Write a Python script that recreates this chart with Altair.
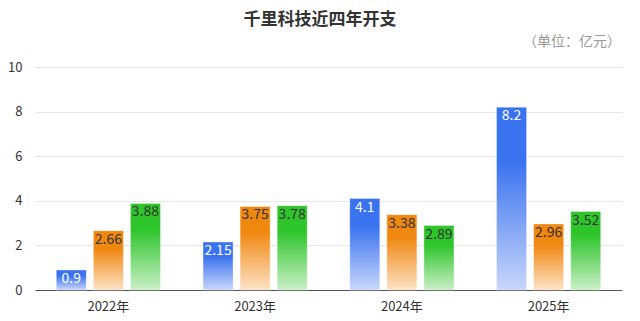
import altair as alt
import pandas as pd

years = ["2022年", "2023年", "2024年", "2025年"]
series = ["系列1", "系列2", "系列3"]
s1 = [0.9, 2.15, 4.1, 8.2]
s2 = [2.66, 3.75, 3.38, 2.96]
s3 = [3.88, 3.78, 2.89, 3.52]

top_colors = ["#3a73ef", "#f0870f", "#2ec52b"]
bottom_colors = ["#c9d7fb", "#fde3c6", "#caf0c7"]
label_colors = ["#ffffff", "#333333", "#333333"]

rows = []
for vals, s in zip([s1, s2, s3], series):
    for y, v in zip(years, vals):
        rows.append({"year": y, "series": s, "value": v})
df = pd.DataFrame(rows)

FONT = "Noto Sans CJK SC"

x_enc = alt.X("year:N", sort=years, title=None,
              scale=alt.Scale(paddingInner=0.29, paddingOuter=0.145),
              axis=alt.Axis(labelAngle=0, labelFontSize=13, labelColor="#333333",
                            labelPadding=10, ticks=False, domainColor="#555555",
                            labelFont=FONT))
xoff = alt.XOffset("series:N", sort=series,
                   scale=alt.Scale(paddingInner=0.19, paddingOuter=0))
y_enc = alt.Y("value:Q", title=None,
              scale=alt.Scale(domain=[0, 10], nice=False),
              axis=alt.Axis(values=[0, 2, 4, 6, 8, 10], domain=False, ticks=False,
                            gridColor="#e6e6e6", labelFontSize=13, labelColor="#333333",
                            labelPadding=13, labelFont=FONT))

base = alt.Chart(df)
layers = []
for s, tc, bc in zip(series, top_colors, bottom_colors):
    grad = alt.Gradient(gradient="linear", x1=0, y1=0, x2=0, y2=1,
                        stops=[alt.GradientStop(color=tc, offset=0),
                               alt.GradientStop(color=tc, offset=0.3),
                               alt.GradientStop(color=bc, offset=1)])
    layers.append(
        base.transform_filter(alt.datum.series == s)
        .mark_bar(color=grad, stroke="#ffffff", strokeOpacity=0.35, strokeWidth=1)
        .encode(x=x_enc, xOffset=xoff, y=y_enc)
    )

labels = base.mark_text(baseline="top", dy=2, fontSize=14, font=FONT).encode(
    x=x_enc, xOffset=xoff, y=y_enc,
    text=alt.Text("value:Q"),
    color=alt.Color("series:N", scale=alt.Scale(domain=series, range=label_colors), legend=None),
)

unit = alt.Chart(pd.DataFrame({"t": ["（单位：亿元）"]})).mark_text(
    align="right", baseline="middle", fontSize=14, color="#999999", font=FONT
).encode(text="t:N", x=alt.value(586), y=alt.value(-25))

title = alt.Chart(pd.DataFrame({"t": ["千里科技近四年开支"]})).mark_text(
    align="center", baseline="middle", fontSize=17, fontWeight="bold",
    color="#333333", font=FONT
).encode(text="t:N", x=alt.value(285), y=alt.value(-47))

chart = alt.layer(*layers, labels, unit, title).properties(
    width=587, height=223,
    autosize=alt.AutoSizeParams(type="none"),
    padding={"left": 35, "top": 67, "right": 18, "bottom": 31},
).configure_view(stroke=None)

chart.save("out.html", embed_options={"renderer": "svg", "actions": False})
